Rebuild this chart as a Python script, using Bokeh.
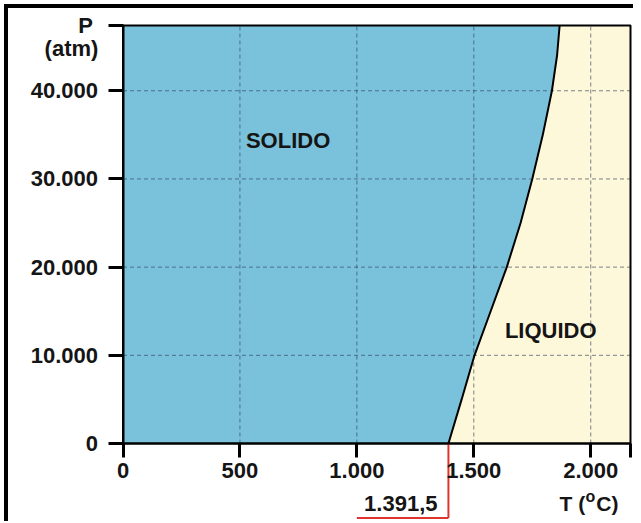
from bokeh.plotting import figure
from bokeh.models import FixedTicker, Range1d
from bokeh.core.properties import value
from bokeh.embed import file_html
from bokeh.resources import INLINE

# ---- data ----
T_ticks = [0, 500, 1000, 1500, 2000]
T_tick_labels = ["0", "500", "1.000", "1.500", "2.000"]
P_ticks = [0, 10000, 20000, 30000, 40000]
P_tick_labels = ["0", "10.000", "20.000", "30.000", "40.000"]
T_max = 2170
P_max = 47400

melt_T = 1391.5
melt_label = "1.391,5"
bracket_T_left = 1000

curve_T = [1391.5, 1448, 1503, 1572, 1641, 1700, 1750, 1795, 1834, 1856, 1867]
curve_P = [0, 5000, 10000, 15000, 20000, 25000, 30000, 35000, 40000, 44000, 47400]

region_labels = ["SOLIDO", "LIQUIDO"]
region_T = [706, 1829]
region_P = [34400, 12860]

# ---- layout (pixels of the page) ----
W, H = 633, 521
FR_L, FR_R, FR_T, FR_B = 122.5, 630.0, 25.0, 443.0
kx = (FR_R - FR_L) / T_max
ky = (FR_B - FR_T) / P_max
def X(px):
    return (px - FR_L) / kx
def Y(py):
    return (FR_B - py) / ky

FONT = "Liberation Sans"
BLUE = "#7AC2DB"
CREAM = "#FDF8DA"
INK = "#151515"
RED = "#E0352E"

p = figure(width=W, height=H, output_backend="svg", toolbar_location=None,
           x_range=Range1d(X(0), X(W)), y_range=Range1d(Y(H), Y(0)),
           min_border_left=0, min_border_right=0, min_border_top=0, min_border_bottom=0)
p.styles = {"box-shadow": "inset 4px 4px 0 0 white, inset 8px 8px 0 0 black"}
p.background_fill_color = None
p.border_fill_color = None
p.outline_line_color = None
p.grid.visible = False

# chart area: liquid background, solid region left of the melting curve
p.quad(left=[0], right=[T_max], bottom=[0], top=[P_max], fill_color=CREAM, line_color=None)
solid_x = [0] + curve_T + [0]
solid_y = [0] + curve_P + [P_max]
p.patch(solid_x, solid_y, fill_color=BLUE, line_color=None)

# dashed grid
gx = [t for t in T_ticks if t > 0]
gy = [t for t in P_ticks if t > 0]
p.segment(x0=gx, y0=[0] * len(gx), x1=gx, y1=[P_max] * len(gx),
          line_color="#34405a", line_alpha=0.65, line_dash="4 3", line_width=1)
p.segment(x0=[0] * len(gy), y0=gy, x1=[T_max] * len(gy), y1=gy,
          line_color="#34405a", line_alpha=0.65, line_dash="4 3", line_width=1)

# melting curve and frame
p.line(curve_T, curve_P, line_color="black", line_width=2)
p.quad(left=[0], right=[T_max], bottom=[0], top=[P_max], fill_color=None,
       line_color="black", line_width=2)

# axes at the origin
for ax, ticks, labels, mx in ((p.xaxis[0], T_ticks, T_tick_labels, T_max),
                              (p.yaxis[0], P_ticks, P_tick_labels, P_max)):
    ax.fixed_location = 0
    ax.bounds = (0, mx)
    ax.ticker = FixedTicker(ticks=ticks + [mx])
    ov = {t: l for t, l in zip(ticks, labels)}
    ov[mx] = ""
    ax.major_label_overrides = ov
    ax.major_tick_line_width = 3
    ax.major_tick_line_color = "black"
    ax.major_tick_out = 14
    ax.major_tick_in = 0
    ax.minor_tick_line_color = None
    ax.axis_line_color = "black"
    ax.axis_line_width = 2
    ax.major_label_text_font = FONT
    ax.major_label_text_font_style = "bold"
    ax.major_label_text_font_size = "22px"
    ax.major_label_text_color = INK
p.yaxis.major_label_standoff = 10
p.yaxis.major_tick_out = 15
p.xaxis.major_label_standoff = 5

def txt(x, y, text, size="22px", align="center", baseline="middle"):
    p.text(x=[x], y=[y], text=[text], text_font=value(FONT), text_font_style="bold",
           text_font_size=size, text_color=INK, text_align=align, text_baseline=baseline)

# region labels
for t, x, y in zip(region_labels, region_T, region_P):
    txt(x, y, t)

# axis titles
txt(X(85), Y(25), "P", size="22px")
txt(X(71), Y(48), "(atm)", size="22px")
txt(X(559), Y(503), "T (", size="21px", align="left")
txt(X(590), Y(496), "o", size="16px")
txt(X(618), Y(503), "C)", size="21px", align="right")

# melting point marker
by = Y(517.5)
p.segment(x0=[melt_T, bracket_T_left], y0=[0, by], x1=[melt_T, melt_T], y1=[by, by],
          line_color=RED, line_width=2)
txt(X(437), Y(503), melt_label, size="22px", align="right")

open("out.html", "w").write(file_html(p, INLINE))
